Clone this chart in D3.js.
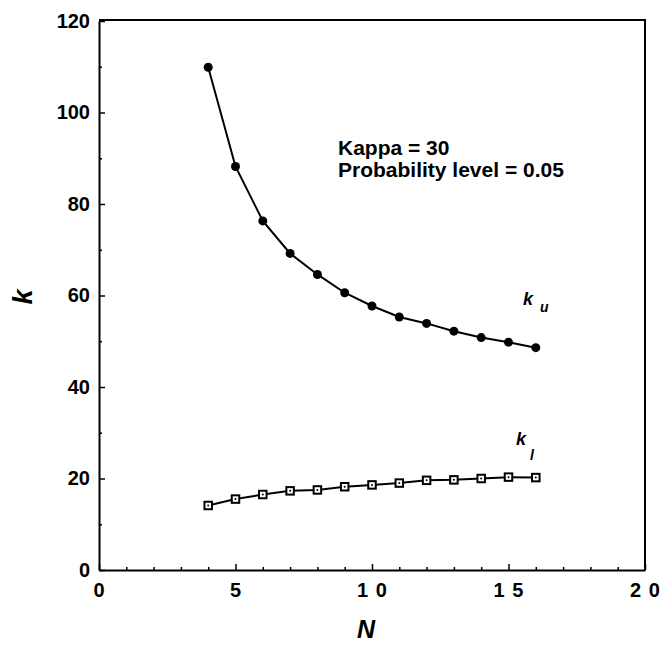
<!DOCTYPE html>
<html>
<head>
<meta charset="utf-8">
<script src="https://cdn.jsdelivr.net/npm/d3@7"></script>
<style>
  body { margin: 0; background: #fff; }
  svg text { font-family: "Liberation Sans", Arial, Helvetica, sans-serif; font-weight: bold; fill: #000; }
</style>
</head>
<body>
<div id="wrapper"></div>
<script>
// data
const nValues = [4, 5, 6, 7, 8, 9, 10, 11, 12, 13, 14, 15, 16]
const kUpper = [109.9, 88.2, 76.3, 69.2, 64.6, 60.6, 57.7, 55.3, 53.9, 52.2, 50.8, 49.8, 48.6]
const kLower = [14.1, 15.5, 16.5, 17.3, 17.5, 18.2, 18.6, 19.0, 19.6, 19.7, 20.0, 20.3, 20.2]

const xTicks = [0, 5, 10, 15, 20]
const xTickLabels = ["0", "5", "1 0", "1 5", "2 0"]
const yTicks = [0, 20, 40, 60, 80, 100, 120]
const notes = ["Kappa = 30", "Probability level = 0.05"]

function drawChart() {
  const dimensions = {
    width: 660,
    height: 645,
    margin: { top: 21, right: 15, bottom: 75, left: 99 },
  }
  dimensions.boundedWidth = dimensions.width - dimensions.margin.left - dimensions.margin.right
  dimensions.boundedHeight = dimensions.height - dimensions.margin.top - dimensions.margin.bottom

  const svg = d3.select("#wrapper").append("svg")
      .attr("width", dimensions.width)
      .attr("height", dimensions.height)

  const bounds = svg.append("g")
      .attr("transform", `translate(${dimensions.margin.left},${dimensions.margin.top})`)

  const xScale = d3.scaleLinear().domain([0, 20]).range([0, dimensions.boundedWidth])
  const yScale = d3.scaleLinear().domain([0, 120]).range([dimensions.boundedHeight, 0])

  // frame top + right (no ticks)
  bounds.append("path")
      .attr("d", `M0,-1H${dimensions.boundedWidth}V${dimensions.boundedHeight}`)
      .attr("fill", "none")
      .attr("stroke", "#000")
      .attr("stroke-width", 2)

  // minor ticks
  const xMinor = d3.range(1, 20).filter(v => v % 5 !== 0)
  bounds.append("g")
      .attr("transform", `translate(0,${dimensions.boundedHeight})`)
      .call(d3.axisBottom(xScale).tickValues(xMinor).tickSize(-3).tickFormat(""))
      .call(g => g.select(".domain").remove())
      .call(g => g.selectAll("line").attr("stroke-width", 1.5))
  bounds.append("g")
      .call(d3.axisLeft(yScale).tickValues(d3.range(10, 120, 20)).tickSize(-3).tickFormat(""))
      .call(g => g.select(".domain").remove())
      .call(g => g.selectAll("line").attr("stroke-width", 1.5))

  // major axes
  const xAxis = bounds.append("g")
      .attr("transform", `translate(0,${dimensions.boundedHeight})`)
      .call(d3.axisBottom(xScale)
        .tickValues(xTicks)
        .tickSizeInner(-6).tickSizeOuter(0).tickPadding(13)
        .tickFormat((d, i) => xTickLabels[i]))
  xAxis.select(".domain").attr("stroke-width", 2)
  xAxis.selectAll("line").attr("stroke-width", 1.5)
  xAxis.selectAll("text").attr("font-size", 20).style("letter-spacing", "1px")

  const yAxis = bounds.append("g")
      .call(d3.axisLeft(yScale)
        .tickValues(yTicks)
        .tickSizeInner(-6).tickSizeOuter(0).tickPadding(9))
  yAxis.select(".domain").attr("stroke-width", 2)
  yAxis.selectAll("line").attr("stroke-width", 1.5)
  yAxis.selectAll("text").attr("font-size", 20)

  // axis titles
  svg.append("text")
      .attr("transform", `translate(32,297) rotate(-90)`)
      .attr("text-anchor", "middle")
      .attr("font-size", 27)
      .attr("font-style", "italic")
      .text("k")
  svg.append("text")
      .attr("x", 366)
      .attr("y", 638)
      .attr("text-anchor", "middle")
      .attr("font-size", 25)
      .attr("font-style", "italic")
      .text("N")

  // series
  const lineGen = values => d3.line()
      .x((d, i) => xScale(nValues[i]))
      .y(d => yScale(d))(values)

  bounds.append("path")
      .attr("d", lineGen(kUpper))
      .attr("fill", "none")
      .attr("stroke", "#000")
      .attr("stroke-width", 2)
  bounds.selectAll(".upper")
    .data(kUpper)
    .enter().append("circle")
      .attr("class", "upper")
      .attr("cx", (d, i) => xScale(nValues[i]))
      .attr("cy", d => yScale(d))
      .attr("r", 4.5)
      .attr("fill", "#000")

  bounds.append("path")
      .attr("d", lineGen(kLower))
      .attr("fill", "none")
      .attr("stroke", "#000")
      .attr("stroke-width", 2)
  const squares = bounds.selectAll(".lower")
    .data(kLower)
    .enter().append("g")
      .attr("class", "lower")
      .attr("transform", (d, i) => `translate(${xScale(nValues[i])},${yScale(d)})`)
  squares.append("rect")
      .attr("x", -3.75).attr("y", -3.75)
      .attr("width", 7.5).attr("height", 7.5)
      .attr("fill", "#fff")
      .attr("stroke", "#000")
      .attr("stroke-width", 2)
  squares.append("circle")
      .attr("r", 1)
      .attr("fill", "#000")

  // series labels
  const ku = svg.append("text").attr("x", 523).attr("y", 305).attr("font-style", "italic")
  ku.append("tspan").attr("font-size", 18).text("k")
  ku.append("tspan").attr("x", 540).attr("y", 312).attr("font-size", 14).text("u")

  const kl = svg.append("text").attr("x", 516).attr("y", 445).attr("font-style", "italic")
  kl.append("tspan").attr("font-size", 18).text("k")
  kl.append("tspan").attr("x", 530).attr("y", 460).attr("font-size", 14).text("l")

  // annotation
  svg.selectAll(".note")
    .data(notes)
    .enter().append("text")
      .attr("class", "note")
      .attr("x", 338)
      .attr("y", (d, i) => 155 + i * 21.5)
      .attr("font-size", 21)
      .text(d => d)
}
drawChart()
</script>
</body>
</html>
